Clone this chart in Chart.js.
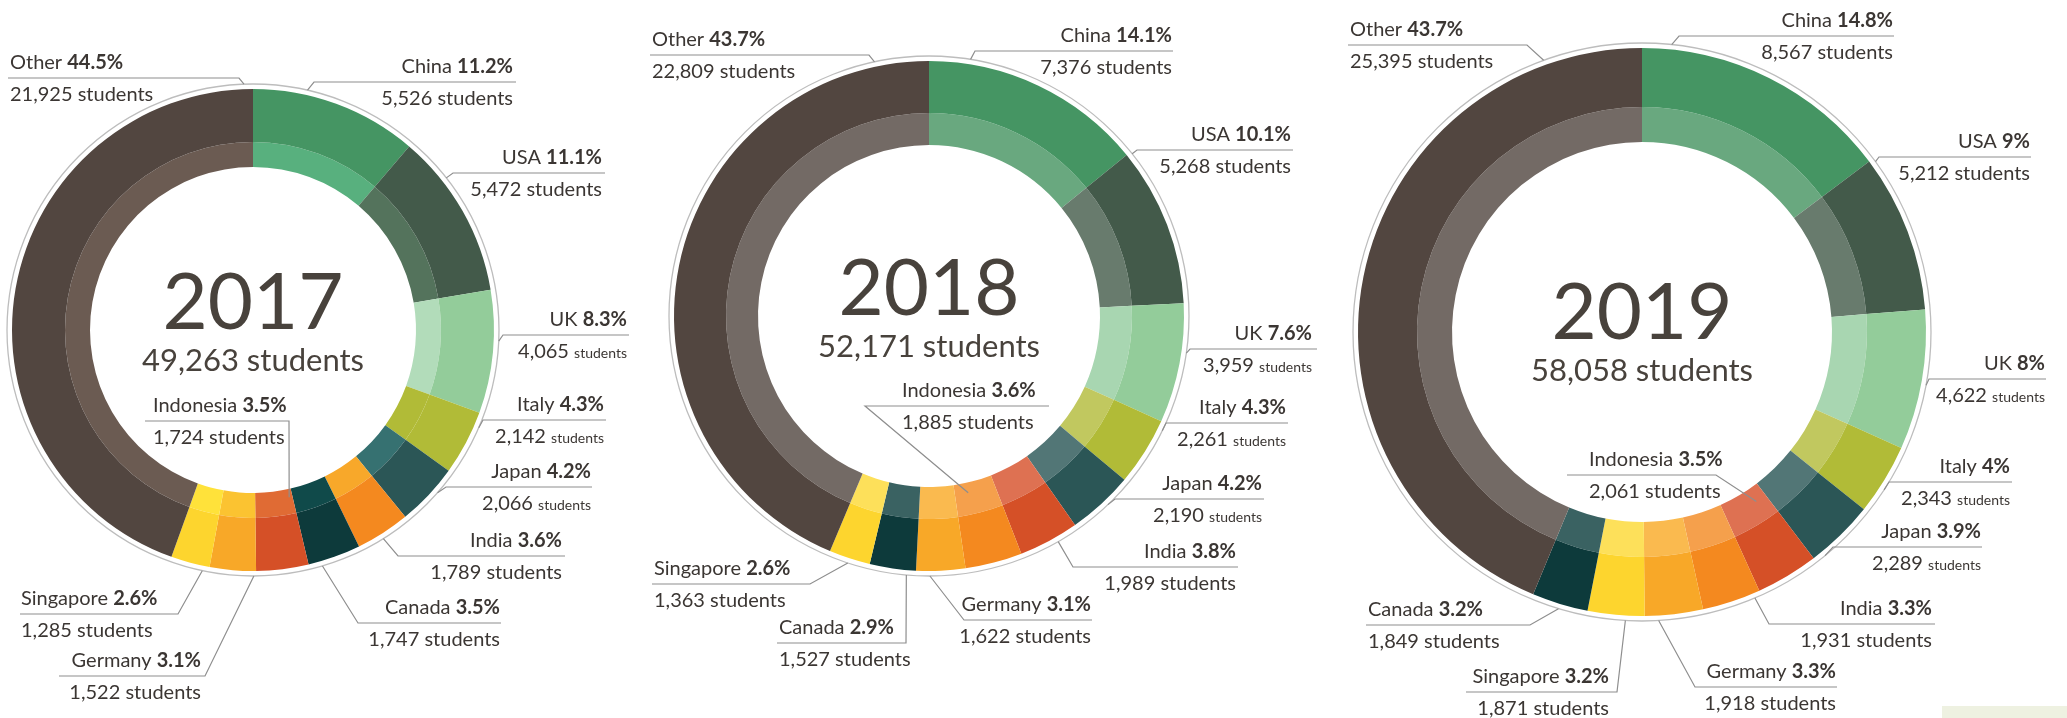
<!DOCTYPE html>
<html><head><meta charset="utf-8">
<script src="https://cdn.jsdelivr.net/npm/chart.js@4.4.1/dist/chart.umd.min.js"></script>
<style>
html,body{margin:0;padding:0;background:#fff;}
#wrap{position:relative;width:2067px;height:718px;overflow:hidden;background:#fff;}
#wrap canvas{position:absolute;left:0;top:0;}
#corner{position:absolute;left:1942px;top:706px;width:125px;height:12px;background:#eef1e1;}
</style></head><body>
<div id="wrap">
<canvas id="c0" width="2067" height="718"></canvas>
<canvas id="c1" width="2067" height="718"></canvas>
<canvas id="c2" width="2067" height="718"></canvas>
<div id="corner"></div>
</div>
<script>
// ---------------- DATA ----------------
const years = ['2017', '2018', '2019'];
const totals = [49263, 52171, 58058];

const countries2017 = ['China','USA','UK','Italy','Japan','India','Canada','Indonesia','Germany','Singapore','Other'];
const students2017  = [5526, 5472, 4065, 2142, 2066, 1789, 1747, 1724, 1522, 1285, 21925];
const pct2017       = [11.2, 11.1, 8.3, 4.3, 4.2, 3.6, 3.5, 3.5, 3.1, 2.6, 44.5];

const countries2018 = ['China','USA','UK','Italy','Japan','India','Indonesia','Germany','Canada','Singapore','Other'];
const students2018  = [7376, 5268, 3959, 2261, 2190, 1989, 1885, 1622, 1527, 1363, 22809];
const pct2018       = [14.1, 10.1, 7.6, 4.3, 4.2, 3.8, 3.6, 3.1, 2.9, 2.6, 43.7];

const countries2019 = ['China','USA','UK','Italy','Japan','Indonesia','India','Germany','Singapore','Canada','Other'];
const students2019  = [8567, 5212, 4622, 2343, 2289, 2061, 1931, 1918, 1871, 1849, 25395];
const pct2019       = [14.8, 9, 8, 4, 3.9, 3.5, 3.3, 3.3, 3.2, 3.2, 43.7];

// ---------------- STYLE ----------------
const outer2017 = ['#459563','#435a4a','#93cc9a','#b1bb37','#2b5656','#f4891f','#0d3a3b','#d55027','#f8a828','#fdd52e','#524640'];
const inner2017 = ['#58b07e','#54735c','#b2dcba','#b1bb37','#367171','#f8a82a','#104a4a','#e06b34','#fbc331','#ffe23a','#6b5b52'];
const outer2018 = ['#459563','#435a4a','#93cc9a','#b1bb37','#2b5656','#d55027','#f4891f','#f8a828','#0d3a3b','#fdd52e','#524640'];
const inner2018 = ['#69a87f','#687b6d','#a8d6b1','#c1c85f','#527676','#de7152','#f5a04c','#faba4f','#3a6262','#fde05a','#736a65'];
const outer2019 = ['#459563','#435a4a','#93cc9a','#b1bb37','#2b5656','#d55027','#f4891f','#f8a828','#fdd52e','#0d3a3b','#524640'];
const inner2019 = ['#69a87f','#687b6d','#a8d6b1','#c1c85f','#527676','#de7152','#f5a04c','#faba4f','#fde05a','#3a6262','#736a65'];

const FONT = 'Lato, "Noto Sans", sans-serif';
const TEXT = '#3b3633';
const CENTER_TEXT = '#48423c';
const LINE = '#8e8e8e';

// ring geometry per chart: centre, outer radius, ring boundary, inner radius
const geo = [
  {cx: 253,  cy: 330, R: 241, rMid: 188, rIn: 163, dy1: -1, dy2: 41},
  {cx: 929,  cy: 316, R: 255, rMid: 203, rIn: 171, dy1: -1, dy2: 41},
  {cx: 1642, cy: 332, R: 284, rMid: 225, rIn: 190, dy1: 7,  dy2: 49}
];

// label layout (index aligned with the country arrays)
const layout2017 = [
  {x:513, y:73,  al:'r', sep:[314,516], from:'l', ang:12.8},
  {x:602, y:164, al:'r', sep:[453,605], from:'l', ang:51.8},
  {x:627, y:326, al:'r', sep:[503,629], from:'l', ang:92.6, small:1},
  {x:604, y:411, al:'r', sep:[483,606], from:'l', ang:113.4, small:1},
  {x:591, y:478, al:'r', sep:[446,592], from:'l', ang:131.4, small:1},
  {x:562, y:547, al:'r', sep:[398,565], from:'l', ang:148.0},
  {x:500, y:614, al:'r', sep:[358,501], from:'l', ang:163.6},
  {x:153, y:412, al:'l', sep:[145,289], from:'r', ang:167.8, rad:0.71},
  {x:201, y:667, al:'r', sep:[59,205],  from:'r', ang:179.8},
  {x:21,  y:605, al:'l', sep:[20,178],  from:'r', ang:191.9},
  {x:10,  y:69,  al:'l', sep:[8,239],   from:'r', ang:357.9}
];
const layout2018 = [
  {x:1172, y:42,  al:'r', sep:[975,1173],  from:'l', ang:9.2},
  {x:1291, y:141, al:'r', sep:[1137,1293], from:'l', ang:51.4},
  {x:1312, y:340, al:'r', sep:[1190,1317], from:'l', ang:98.2, small:1},
  {x:1286, y:414, al:'r', sep:[1166,1288], from:'l', ang:116.2, small:1},
  {x:1262, y:490, al:'r', sep:[1115,1264], from:'l', ang:136.5, small:1},
  {x:1236, y:558, al:'r', sep:[1073,1238], from:'l', ang:150.2},
  {x:902,  y:397, al:'l', sep:[865,1049],  from:'l', ang:167.5, rad:0.71},
  {x:1091, y:611, al:'r', sep:[964,1092],  from:'l', ang:179.8},
  {x:779,  y:634, al:'l', sep:[777,906],   from:'r', ang:185.0},
  {x:654,  y:575, al:'l', sep:[652,810],   from:'r', ang:198.2},
  {x:652,  y:46,  al:'l', sep:[650,869],   from:'r', ang:347.9}
];
const layout2019 = [
  {x:1893, y:27,  al:'r', sep:[1679,1894], from:'l', ang:5.9},
  {x:2030, y:148, al:'r', sep:[1879,2031], from:'l', ang:53.9},
  {x:2045, y:370, al:'r', sep:[1929,2046], from:'l', ang:100.6, small:1},
  {x:2010, y:473, al:'r', sep:[1889,2012], from:'l', ang:123.1, small:1},
  {x:1981, y:538, al:'r', sep:[1833,1982], from:'l', ang:140.7, small:1},
  {x:1589, y:466, al:'l', sep:[1567,1716], from:'r', ang:146.0, rad:0.72},
  {x:1932, y:615, al:'r', sep:[1769,1935], from:'l', ang:157.0},
  {x:1836, y:678, al:'r', sep:[1695,1837], from:'l', ang:176.7},
  {x:1609, y:683, al:'r', sep:[1466,1617], from:'r', ang:183.3},
  {x:1368, y:616, al:'l', sep:[1366,1530], from:'r', ang:196.8},
  {x:1350, y:36,  al:'l', sep:[1348,1527], from:'r', ang:340.1}
];

const sets = [
  {countries: countries2017, students: students2017, pct: pct2017, outer: outer2017, inner: inner2017, layout: layout2017},
  {countries: countries2018, students: students2018, pct: pct2018, outer: outer2018, inner: inner2018, layout: layout2018},
  {countries: countries2019, students: students2019, pct: pct2019, outer: outer2019, inner: inner2019, layout: layout2019}
];

const fmt = n => n.toLocaleString('en-US');

function drawLabel(ctx, lab, name, pct, count, cx, cy, R) {
  const fs = 20;
  const fReg = `400 ${fs}px ${FONT}`, fBold = `700 ${fs}px ${FONT}`, fSmall = `400 14px ${FONT}`;
  const a = name + ' ', b = pct + '%';
  ctx.font = fReg; const wa = ctx.measureText(a).width;
  ctx.font = fBold; const wb = ctx.measureText(b).width;
  const w1 = wa + wb;
  const num = fmt(count);
  let c1 = num + ' students', c2 = '';
  let w2;
  if (lab.small) {
    c1 = num + ' '; c2 = 'students';
    ctx.font = fReg; const wn = ctx.measureText(c1).width;
    ctx.font = fSmall; w2 = wn + ctx.measureText(c2).width;
  } else {
    ctx.font = fReg; w2 = ctx.measureText(c1).width;
  }
  const x1 = lab.al === 'r' ? lab.x - w1 : lab.x;
  const x2 = lab.al === 'r' ? lab.x - w2 : lab.x;
  ctx.fillStyle = TEXT;
  ctx.textBaseline = 'alphabetic';
  ctx.textAlign = 'left';
  ctx.font = fReg; ctx.fillText(a, x1, lab.y);
  ctx.font = fBold; ctx.fillText(b, x1 + wa, lab.y);
  ctx.font = fReg; ctx.fillText(c1, x2, lab.y + 32);
  if (c2) {
    const wn = ctx.measureText(c1).width;
    ctx.font = fSmall; ctx.fillText(c2, x2 + wn, lab.y + 32);
  }
  // separator + leader
  const sy = lab.y + 9;
  const th = lab.ang * Math.PI / 180;
  const r = lab.rad ? lab.rad * R : R + 5;
  const px = cx + r * Math.sin(th), py = cy - r * Math.cos(th);
  const cornerX = lab.from === 'l' ? lab.sep[0] : lab.sep[1];
  const farX = lab.from === 'l' ? lab.sep[1] : lab.sep[0];
  ctx.strokeStyle = LINE;
  ctx.lineWidth = 1.2;
  ctx.beginPath();
  ctx.moveTo(farX, sy);
  ctx.lineTo(cornerX, sy);
  ctx.lineTo(px, py);
  ctx.stroke();
}

const annotPlugin = {
  id: 'annot',
  afterDraw(chart, args, opts) {
    const k = opts.index;
    const s = sets[k], g = geo[k];
    const arc = chart.getDatasetMeta(0).data[0];
    const cx = arc.x, cy = arc.y, R = arc.outerRadius;
    const ctx = chart.ctx;
    ctx.save();
    // thin outline circle
    ctx.beginPath();
    ctx.arc(cx, cy, R + 5, 0, Math.PI * 2);
    ctx.strokeStyle = '#bdbdbd';
    ctx.lineWidth = 1.3;
    ctx.stroke();
    // centre text
    ctx.fillStyle = CENTER_TEXT;
    ctx.textAlign = 'center';
    ctx.textBaseline = 'alphabetic';
    ctx.font = `400 78px ${FONT}`;
    ctx.fillText(years[k], cx, cy + g.dy1);
    ctx.font = `400 31px ${FONT}`;
    ctx.fillText(fmt(totals[k]) + ' students', cx, cy + g.dy2);
    // labels
    s.layout.forEach((lab, i) => drawLabel(ctx, lab, s.countries[i], s.pct[i], s.students[i], cx, cy, R));
    ctx.restore();
  }
};

const W = 2067, H = 718;
sets.forEach((s, k) => {
  const g = geo[k];
  new Chart(document.getElementById('c' + k), {
    type: 'doughnut',
    data: {
      labels: s.countries,
      datasets: [
        {data: s.students, backgroundColor: s.outer, borderWidth: 0, hoverOffset: 0, weight: g.R - g.rMid},
        {data: s.students, backgroundColor: s.inner, borderWidth: 0, hoverOffset: 0, weight: g.rMid - g.rIn}
      ]
    },
    options: {
      responsive: false,
      animation: false,
      devicePixelRatio: 1,
      events: [],
      cutout: (g.rIn / g.R * 100) + '%',
      radius: '100%',
      layout: {padding: {left: g.cx - g.R, right: W - g.cx - g.R, top: g.cy - g.R, bottom: H - g.cy - g.R}},
      plugins: {legend: {display: false}, tooltip: {enabled: false}, annot: {index: k}}
    },
    plugins: [annotPlugin]
  });
});
</script>
</body></html>
